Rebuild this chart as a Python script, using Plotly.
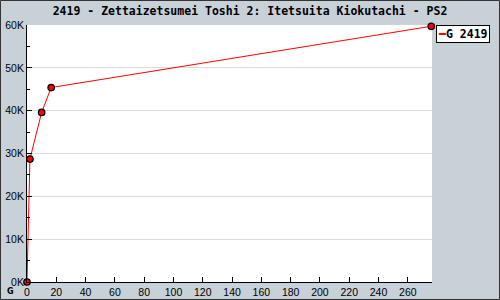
import plotly.graph_objects as go

weeks = [0, 2, 10, 16.5, 276]
sales = [0, 28700, 39600, 45400, 59700]
y_tick_vals = [0, 10000, 20000, 30000, 40000, 50000, 60000]
y_tick_text = ["0K", "10K", "20K", "30K", "40K", "50K", "60K"]
x_tick_vals = list(range(0, 261, 20))
title_text = "2419 - Zettaizetsumei Toshi 2: Itetsuita Kiokutachi - PS2"
series_name = "G 2419"

fig = go.Figure()
fig.add_trace(go.Scatter(
    x=weeks, y=sales, mode="lines+markers", name=series_name, showlegend=False,
    line=dict(color="#ff0000", width=1),
    marker=dict(color="#ff0000", size=6.5, line=dict(color="#000000", width=1.2)),
    cliponaxis=False,
))

W, H = 500, 300
L, R, T, B = 27, 68, 25, 18
pw, ph = W - L - R, H - T - B

fig.update_layout(
    width=W, height=H,
    margin=dict(l=L, r=R, t=T, b=B, autoexpand=False),
    paper_bgcolor="#c8d0d8",
    plot_bgcolor="#ffffff",
    title=dict(text="<b>" + title_text + "</b>", x=0.5, xanchor="center", xref="container",
               y=1 - 11 / H, yanchor="middle",
               font=dict(family="DejaVu Sans Mono", size=11.5, color="#000000")),
    showlegend=False,
    annotations=[
        dict(xref="paper", yref="paper", x=(436 - L) / pw, xanchor="left",
             y=1.0, yanchor="top", showarrow=False,
             text="<span style='color:#ff0000'>━</span><b>" + series_name + "</b>",
             bgcolor="#ffffff", bordercolor="#000000", borderwidth=1, borderpad=1,
             font=dict(family="DejaVu Sans Mono", size=11.5, color="#000000")),
        dict(xref="paper", yref="paper", x=(10 - L) / pw, xanchor="center",
             y=-(291 - T - ph) / ph, yanchor="middle", showarrow=False,
             text="<b>G</b>", font=dict(family="DejaVu Sans", size=8, color="#000000")),
    ],
    xaxis=dict(range=[0, 276.5], tickvals=x_tick_vals, ticks="inside", ticklen=5,
               tickcolor="#000000", showline=True, linecolor="#000000", linewidth=1,
               showgrid=False, zeroline=False, automargin=False,
               tickfont=dict(family="Liberation Sans", size=10.5, color="#000000")),
    yaxis=dict(range=[0, 60000], tickvals=y_tick_vals, ticktext=y_tick_text, ticks="inside", ticklen=5,
               tickcolor="#000000", showline=True, linecolor="#000000", linewidth=1,
               showgrid=True, gridcolor="#dcdcdc", zeroline=False, automargin=False,
               minor=dict(dtick=5000, ticks="inside", ticklen=3, tickcolor="#000000", showgrid=False),
               tickfont=dict(family="Liberation Sans", size=10.5, color="#000000")),
    shapes=[dict(type="rect", xref="paper", yref="paper",
                 x0=-(L - 0.5) / pw, x1=1 + (R - 0.5) / pw,
                 y0=-(B - 0.5) / ph, y1=1 + (T - 0.5) / ph,
                 line=dict(color="#333333", width=1), fillcolor="rgba(0,0,0,0)", layer="above")],
)

fig.write_html("out.html")
